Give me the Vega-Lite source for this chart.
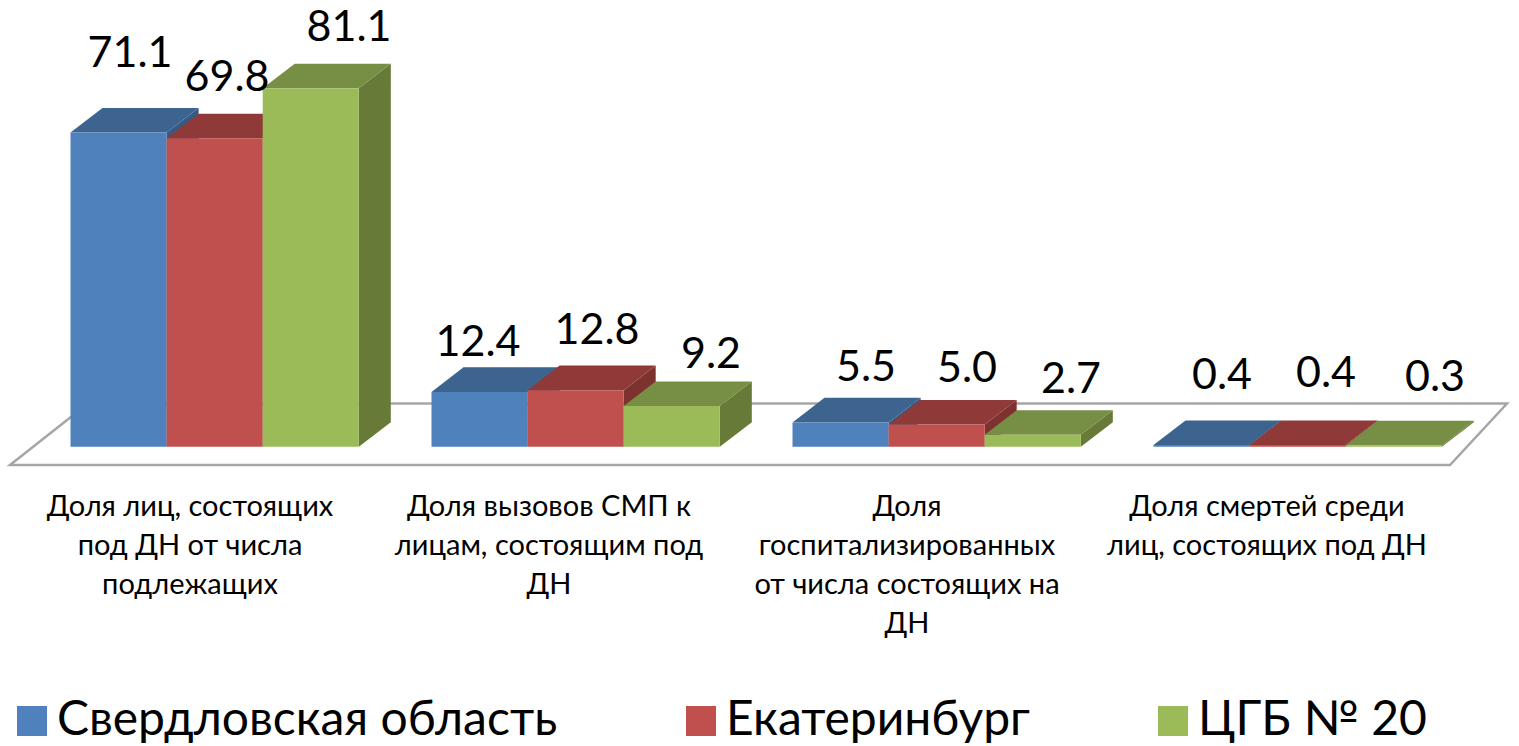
{
"$schema":"https://vega.github.io/schema/vega-lite/v6.json",
"width":1519,"height":746,"padding":0,
"autosize":{"type":"fit","contains":"padding"},
"background":"white",
"config":{"view":{"stroke":null},"font":"Lato"},
"data":{"values":[
{"category":"Доля лиц, состоящих\nпод ДН от числа\nподлежащих","series":"Свердловская область","value":71.1},
{"category":"Доля лиц, состоящих\nпод ДН от числа\nподлежащих","series":"Екатеринбург","value":69.8},
{"category":"Доля лиц, состоящих\nпод ДН от числа\nподлежащих","series":"ЦГБ № 20","value":81.1},
{"category":"Доля вызовов СМП к\nлицам, состоящим под\nДН","series":"Свердловская область","value":12.4},
{"category":"Доля вызовов СМП к\nлицам, состоящим под\nДН","series":"Екатеринбург","value":12.8},
{"category":"Доля вызовов СМП к\nлицам, состоящим под\nДН","series":"ЦГБ № 20","value":9.2},
{"category":"Доля\nгоспитализированных\nот числа состоящих на\nДН","series":"Свердловская область","value":5.5},
{"category":"Доля\nгоспитализированных\nот числа состоящих на\nДН","series":"Екатеринбург","value":5.0},
{"category":"Доля\nгоспитализированных\nот числа состоящих на\nДН","series":"ЦГБ № 20","value":2.7},
{"category":"Доля смертей среди\nлиц, состоящих под ДН","series":"Свердловская область","value":0.4},
{"category":"Доля смертей среди\nлиц, состоящих под ДН","series":"Екатеринбург","value":0.4},
{"category":"Доля смертей среди\nлиц, состоящих под ДН","series":"ЦГБ № 20","value":0.3}
]},
"transform":[
{"window":[{"op":"row_number","as":"rn"}]},
{"calculate":"floor((datum.rn-1)/3)","as":"g"},
{"calculate":"(datum.rn-1)%3","as":"s"},
{"calculate":"70.5+361*datum.g+96.1*datum.s","as":"x0"},
{"calculate":"datum.x0+96.1","as":"x1"},
{"calculate":"0","as":"base"},
{"calculate":"[130,227,349,478,597,711,866,967,1071,1222,1326,1435][datum.rn-1]","as":"lx"},
{"calculate":"(446.7-[54,78,28,343,331,355,368,369,380,376,374,378][datum.rn-1])/4.42","as":"ly"},
{"calculate":"[190,549,907,1267][datum.g]","as":"cx"},
{"calculate":"(446.7-493)/4.42","as":"cy"}
],
"encoding":{
"x":{"type":"quantitative","scale":{"domain":[0,1519],"nice":false,"zero":false},"axis":null},
"y":{"type":"quantitative","scale":{"domain":[-67.71,101.06],"nice":false,"zero":false},"axis":null}
},
"layer":[
{"data":{"values":[{"corner":0},{"corner":1},{"corner":2},{"corner":3},{"corner":4}]},
"transform":[
{"calculate":"[88,1507,1450,10,88][datum.corner]","as":"fx"},
{"calculate":"(446.7-[403.5,403.5,465,465,403.5][datum.corner])/4.42","as":"fy"}],
"mark":{"type":"line","stroke":"#A6A6A6","strokeWidth":2.5,"strokeJoin":"miter"},
"encoding":{"x":{"field":"fx","type":"quantitative"},"y":{"field":"fy","type":"quantitative"},"order":{"field":"corner"}}},
{"transform":[
{"calculate":"[0,1]","as":"k"},{"flatten":["k"]},
{"calculate":"datum.x1+datum.k*32","as":"sx"},
{"calculate":"datum.value+datum.k*5.55","as":"sy"},
{"calculate":"datum.k*5.55","as":"sy2"}],
"mark":{"type":"area","interpolate":"linear"},
"encoding":{"x":{"field":"sx","type":"quantitative"},"y":{"field":"sy","type":"quantitative"},"y2":{"field":"sy2"},"detail":{"field":"rn"},
"color":{"field":"series","type":"nominal","legend":null,"scale":{"domain":["Свердловская область","Екатеринбург","ЦГБ № 20"],"range":["#355A85","#7E3230","#677A38"]}}}},
{"transform":[
{"calculate":"[0,1]","as":"k"},{"flatten":["k"]},
{"calculate":"datum.x0+datum.k*32","as":"tx"},
{"calculate":"datum.x1+datum.k*32","as":"tx2"},
{"calculate":"datum.value+datum.k*5.55","as":"ty"}],
"mark":{"type":"area","orient":"horizontal","interpolate":"linear"},
"encoding":{"y":{"field":"ty","type":"quantitative"},"x":{"field":"tx","type":"quantitative"},"x2":{"field":"tx2"},"detail":{"field":"rn"},
"color":{"field":"series","type":"nominal","legend":null,"scale":{"domain":["Свердловская область","Екатеринбург","ЦГБ № 20"],"range":["#3D638F","#8F3A38","#778E45"]}}}},
{"mark":{"type":"rect"},
"encoding":{"x":{"field":"x0","type":"quantitative"},"x2":{"field":"x1"},"y":{"field":"value","type":"quantitative"},"y2":{"field":"base"},
"color":{"field":"series","type":"nominal","scale":{"domain":["Свердловская область","Екатеринбург","ЦГБ № 20"],"range":["#4F81BD","#C0504D","#9BBB59"]},
"legend":{"title":null,"orient":"none","legendX":8,"legendY":697,"direction":"horizontal","symbolType":"square","symbolSize":900,"symbolStrokeWidth":0,"labelFontSize":48,"labelFont":"Lato","labelColor":"#000000","labelOffset":1,"columnPadding":119,"labelLimit":700,"padding":0}}}},
{"mark":{"type":"text","fontSize":43,"color":"#000000","baseline":"middle","align":"center"},
"encoding":{"x":{"field":"lx","type":"quantitative"},"y":{"field":"ly","type":"quantitative"},"text":{"field":"value","type":"quantitative","format":".1f"}}},
{"transform":[{"filter":"datum.s==0"}],
"mark":{"type":"text","fontSize":29,"color":"#000000","baseline":"top","align":"center","lineBreak":"\n","lineHeight":39},
"encoding":{"x":{"field":"cx","type":"quantitative"},"y":{"field":"cy","type":"quantitative"},"text":{"field":"category"}}}
],
"resolve":{"scale":{"color":"independent"}}
}
